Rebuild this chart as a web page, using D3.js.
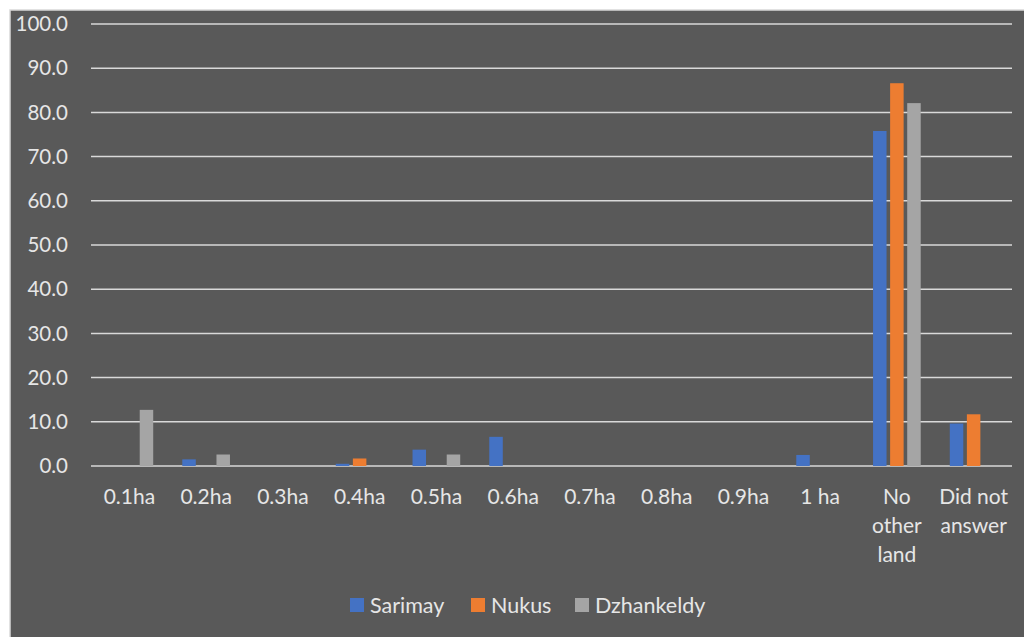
<!DOCTYPE html>
<html lang="en">
<head>
<meta charset="UTF-8">
<title>Other land</title>
<script src="https://d3js.org/d3.v7.min.js"></script>
<style>
  body { margin: 0; background: #ffffff; }
  svg { display: block; }
  text { font-family: Lato, "Open Sans", sans-serif; fill: #e6e6e6; }
</style>
</head>
<body>
<svg id="chart" width="1024" height="637"></svg>
<script>
// data
const categories = ["0.1ha", "0.2ha", "0.3ha", "0.4ha", "0.5ha", "0.6ha", "0.7ha", "0.8ha", "0.9ha", "1 ha", "No other land", "Did not answer"];
const tickLines = [["0.1ha"], ["0.2ha"], ["0.3ha"], ["0.4ha"], ["0.5ha"], ["0.6ha"], ["0.7ha"], ["0.8ha"], ["0.9ha"], ["1 ha"], ["No", "other", "land"], ["Did not", "answer"]];
const seriesNames = ["Sarimay", "Nukus", "Dzhankeldy"];
const sarimay = [0, 1.5, 0, 0.5, 3.7, 6.6, 0, 0, 0, 2.5, 75.8, 9.6];
const nukus = [0, 0, 0, 1.7, 0, 0, 0, 0, 0, 0, 86.6, 11.7];
const dzhankeldy = [12.7, 2.6, 0, 0, 2.6, 0, 0, 0, 0, 0, 82.1, 0];
const yTicks = [0, 10, 20, 30, 40, 50, 60, 70, 80, 90, 100];
const colors = ["#4472c4", "#ed7d31", "#a5a5a5"];

const svg = d3.select("#chart");

// chart area background + border
svg.append("rect")
  .attr("x", 10).attr("y", 10)
  .attr("width", 1030).attr("height", 640)
  .attr("fill", "#595959")
  .attr("stroke", "#d9d9d9")
  .attr("stroke-width", 1.5);

const plotL = 91, plotR = 1012, plotT = 24, plotB = 466;

const x = d3.scaleBand().domain(categories).range([plotL, plotR]);
const x1 = d3.scaleBand().domain(seriesNames).range([0, x.bandwidth()]).paddingInner(0.21).paddingOuter(0.85);
const y = d3.scaleLinear().domain([0, 100]).range([plotB, plotT]);

// gridlines
svg.append("g")
  .selectAll("line")
  .data(yTicks)
  .join("line")
  .attr("x1", plotL).attr("x2", plotR)
  .attr("y1", d => y(d)).attr("y2", d => y(d))
  .attr("stroke", "#d9d9d9")
  .attr("stroke-width", 1.5);

// y labels
svg.append("g")
  .selectAll("text")
  .data(yTicks)
  .join("text")
  .attr("x", 68)
  .attr("y", d => y(d))
  .attr("dy", "0.35em")
  .attr("text-anchor", "end")
  .attr("font-size", 20.5)
  .text(d => d.toFixed(1));

// bars
const series = [sarimay, nukus, dzhankeldy];
const groups = svg.append("g")
  .selectAll("g")
  .data(series)
  .join("g")
  .attr("fill", (d, i) => colors[i]);

groups.selectAll("rect")
  .data((vals, si) => vals.map((v, ci) => ({ v: v, c: categories[ci], s: seriesNames[si] })).filter(d => d.v > 0))
  .join("rect")
  .attr("x", d => x(d.c) + x1(d.s))
  .attr("width", x1.bandwidth())
  .attr("y", d => y(d.v))
  .attr("height", d => y(0) - y(d.v));

// x labels
const xl = svg.append("g")
  .selectAll("text")
  .data(categories)
  .join("text")
  .attr("x", d => x(d) + x.bandwidth() / 2)
  .attr("y", 504)
  .attr("text-anchor", "middle")
  .attr("font-size", 21);

xl.selectAll("tspan")
  .data((d, i) => tickLines[i])
  .join("tspan")
  .attr("x", function () { return this.parentNode.getAttribute("x"); })
  .attr("dy", (d, i) => i === 0 ? 0 : 29)
  .text(d => d);

// legend
const legendX = [350, 471, 575];
const lg = svg.append("g")
  .selectAll("g")
  .data(seriesNames)
  .join("g")
  .attr("transform", (d, i) => `translate(${legendX[i]},598)`);

lg.append("rect")
  .attr("width", 14).attr("height", 14)
  .attr("fill", (d, i) => colors[i]);

lg.append("text")
  .attr("x", 20).attr("y", 7)
  .attr("dy", "0.35em")
  .attr("font-size", 21.5)
  .text(d => d);
</script>
</body>
</html>
